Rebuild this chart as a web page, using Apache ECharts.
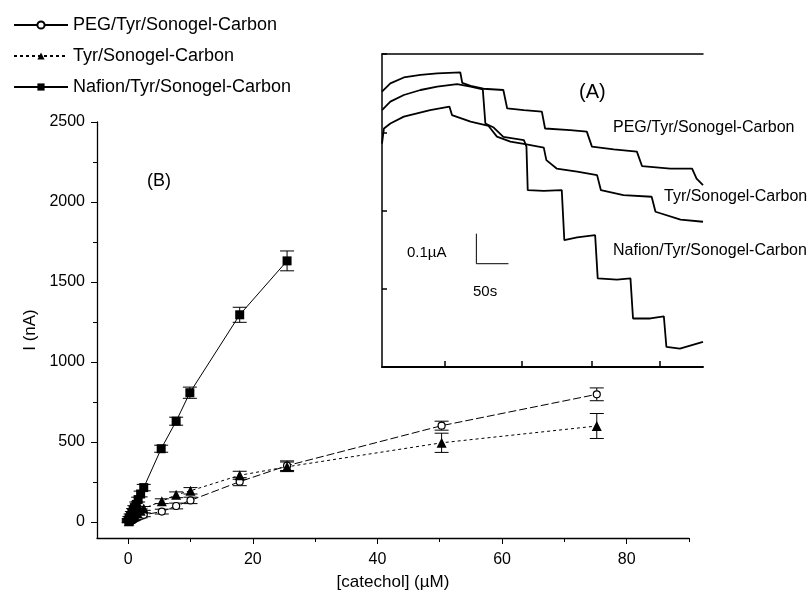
<!DOCTYPE html>
<html>
<head>
<meta charset="utf-8">
<script src="https://cdn.jsdelivr.net/npm/echarts@6/dist/echarts.min.js"></script>
<style>
  html, body { margin: 0; padding: 0; background: #fff; }
  #chart { width: 812px; height: 600px; }
</style>
</head>
<body>
<div id="chart"></div>
<script>
// (B) calibration data: catechol (uM), current (nA), error (nA)
const concNafion = [0.1, 0.2, 0.4, 0.6, 0.8, 1.0, 1.3, 1.6, 2.0, 2.5, 5.3, 7.7, 9.9, 17.9, 25.5];
const currNafion = [12, 25, 40, 55, 72, 90, 110, 140, 175, 215, 458, 630, 808, 1295, 1632];
const errNafion = [10, 10, 10, 10, 12, 12, 15, 15, 18, 20, 22, 25, 35, 47, 62];

const concTyr = [0.1, 0.2, 0.4, 0.6, 0.8, 1.0, 1.5, 2.0, 2.5, 5.4, 7.7, 10.0, 17.9, 25.5, 50.3, 75.2];
const currTyr = [5, 10, 18, 25, 32, 40, 55, 70, 85, 130, 170, 195, 292, 345, 495, 600];
const errTyr = [8, 8, 8, 8, 10, 10, 10, 12, 12, 15, 18, 20, 25, 30, 60, 78];

const concPeg = [0.1, 0.2, 0.4, 0.6, 0.8, 1.0, 1.5, 2.0, 2.5, 5.4, 7.7, 10.0, 17.9, 25.5, 50.3, 75.2];
const currPeg = [3, 6, 10, 14, 18, 22, 30, 38, 45, 65, 100, 135, 252, 352, 602, 798];
const errPeg = [8, 8, 8, 8, 10, 10, 10, 12, 12, 15, 18, 20, 25, 30, 28, 40];

const xTicks = [0, 20, 40, 60, 80];
const xMinorTicks = [10, 30, 50, 70, 90];
const yTicks = [0, 500, 1000, 1500, 2000, 2500];
const yMinorTicks = [250, 750, 1250, 1750, 2250];

// (A) amperometric traces: time (s), relative current
const timePeg = [0, 13, 34, 60, 86, 122, 125, 138, 158, 189, 195, 221, 249, 254, 293, 319, 327, 361, 397, 405, 449, 483, 490, 500];
const ampPeg = [0.880, 0.906, 0.925, 0.933, 0.938, 0.941, 0.908, 0.898, 0.889, 0.885, 0.826, 0.821, 0.816, 0.762, 0.757, 0.752, 0.704, 0.695, 0.688, 0.642, 0.634, 0.634, 0.602, 0.581];

const timeTyr = [0, 3, 13, 34, 75, 105, 109, 138, 166, 179, 200, 223, 252, 256, 272, 304, 335, 341, 376, 420, 426, 465, 500];
const ampTyr = [0.714, 0.762, 0.778, 0.800, 0.821, 0.832, 0.805, 0.784, 0.770, 0.736, 0.720, 0.712, 0.701, 0.661, 0.634, 0.624, 0.613, 0.565, 0.549, 0.544, 0.496, 0.471, 0.464];

const timeNafion = [0, 13, 34, 60, 86, 117, 138, 157, 161, 174, 189, 221, 225, 227, 252, 280, 284, 304, 332, 336, 366, 387, 391, 418, 439, 443, 464, 500];
const ampNafion = [0.821, 0.848, 0.869, 0.885, 0.896, 0.904, 0.896, 0.887, 0.778, 0.765, 0.735, 0.725, 0.704, 0.565, 0.563, 0.565, 0.405, 0.414, 0.421, 0.283, 0.279, 0.283, 0.155, 0.155, 0.162, 0.064, 0.059, 0.080];

const insetTimeTicks = [97, 217, 326, 432];
const scaleBarTime = [147, 147, 197];
const scaleBarAmp = [0.426, 0.330, 0.330];

const FONT = '"Liberation Sans", Arial, sans-serif';
const zip = (a, b) => a.map((v, i) => [v, b[i]]);
const zip3 = (a, b, c) => a.map((v, i) => [v, b[i], c[i]]);

const errorBars = (data) => ({
  type: 'custom',
  xAxisIndex: 0,
  yAxisIndex: 0,
  z: 1,
  silent: true,
  data: data,
  renderItem: (params, api) => {
    const x = api.value(0), y = api.value(1), e = api.value(2);
    const top = api.coord([x, y + e]);
    const bot = api.coord([x, y - e]);
    const hw = 7;
    const st = { stroke: '#000', lineWidth: 1 };
    return {
      type: 'group',
      children: [
        { type: 'line', shape: { x1: top[0], y1: top[1], x2: bot[0], y2: bot[1] }, style: st },
        { type: 'line', shape: { x1: top[0] - hw, y1: top[1], x2: top[0] + hw, y2: top[1] }, style: st },
        { type: 'line', shape: { x1: bot[0] - hw, y1: bot[1], x2: bot[0] + hw, y2: bot[1] }, style: st },
      ],
    };
  },
});

const trace = (t, a) => ({
  type: 'line',
  xAxisIndex: 2,
  yAxisIndex: 2,
  showSymbol: false,
  silent: true,
  lineStyle: { color: '#000', width: 1.8 },
  data: zip(t, a),
});

const chart = echarts.init(document.getElementById('chart'));

const option = {
  animation: false,
  backgroundColor: '#fff',
  textStyle: { fontFamily: FONT, color: '#000' },
  legend: {
    orient: 'vertical',
    left: 13,
    top: 15,
    padding: 0,
    itemWidth: 54,
    itemHeight: 9,
    itemGap: 11,
    textStyle: { fontFamily: FONT, fontSize: 18, color: '#000', lineHeight: 20 },
    data: [
      { name: 'PEG/Tyr/Sonogel-Carbon', lineStyle: { type: 'solid' } },
      { name: 'Tyr/Sonogel-Carbon' },
      { name: 'Nafion/Tyr/Sonogel-Carbon' },
    ],
  },
  grid: [
    { left: 97, top: 122, width: 592, height: 416 },
    { left: 382, top: 54, width: 321, height: 313, backgroundColor: '#fff', show: true, borderWidth: 0 },
  ],
  xAxis: [
    {
      type: 'value', gridIndex: 0, min: -5, max: 90, position: 'bottom',
      name: '[catechol] (\u00b5M)', nameLocation: 'middle', nameGap: 36,
      nameTextStyle: { fontFamily: FONT, fontSize: 17, color: '#000' },
      axisLine: { onZero: false, lineStyle: { color: '#000', width: 1.3 } },
      axisTick: { customValues: xTicks, length: 6, lineStyle: { color: '#000' } },
      axisLabel: { customValues: xTicks, fontSize: 16, color: '#000', margin: 14 },
      splitLine: { show: false },
    },
    {
      type: 'value', gridIndex: 0, min: -5, max: 90, position: 'bottom',
      axisLine: { show: false, onZero: false },
      axisTick: { customValues: xMinorTicks, length: 4, lineStyle: { color: '#000' } },
      axisLabel: { show: false },
      splitLine: { show: false },
    },
    {
      type: 'value', gridIndex: 1, min: 0, max: 500, position: 'bottom',
      axisLine: { onZero: false, lineStyle: { color: '#000', width: 2 } },
      axisTick: { customValues: insetTimeTicks, inside: true, length: 6, lineStyle: { color: '#000', width: 1.5 } },
      axisLabel: { show: false },
      splitLine: { show: false },
    },
    {
      type: 'value', gridIndex: 1, min: 0, max: 500, position: 'top',
      axisLine: { onZero: false, lineStyle: { color: '#000', width: 1.5 } },
      axisTick: { show: false },
      axisLabel: { show: false },
      splitLine: { show: false },
    },
  ],
  yAxis: [
    {
      type: 'value', gridIndex: 0, min: -100, max: 2500, position: 'left',
      name: 'I (nA)', nameLocation: 'middle', nameGap: 36,
      nameTextStyle: { fontFamily: FONT, fontSize: 17, color: '#000' },
      axisLine: { show: true, onZero: false, lineStyle: { color: '#000', width: 1.3 } },
      axisTick: { show: true, customValues: yTicks, length: 6, lineStyle: { color: '#000' } },
      axisLabel: { customValues: yTicks, fontSize: 16, color: '#000', margin: 12, formatter: (v) => String(v) },
      splitLine: { show: false },
    },
    {
      type: 'value', gridIndex: 0, min: -100, max: 2500, position: 'left',
      axisLine: { show: false, onZero: false },
      axisTick: { show: true, customValues: yMinorTicks, length: 4, lineStyle: { color: '#000' } },
      axisLabel: { show: false },
      splitLine: { show: false },
    },
    {
      type: 'value', gridIndex: 1, min: 0, max: 1, interval: 0.25, position: 'left',
      axisLine: { show: true, onZero: false, lineStyle: { color: '#000', width: 1.5 } },
      axisTick: { show: true, inside: true, length: 5, lineStyle: { color: '#000', width: 1.5 } },
      axisLabel: { show: false },
      splitLine: { show: false },
    },
  ],
  graphic: [
    { type: 'text', left: 147, top: 172, style: { text: '(B)', font: '18px ' + FONT, fill: '#000' } },
    { type: 'text', left: 579, top: 82, z: 10, style: { text: '(A)', font: '20px ' + FONT, fill: '#000' } },
    { type: 'text', left: 613, top: 120, z: 10, style: { text: 'PEG/Tyr/Sonogel-Carbon', font: '16px ' + FONT, fill: '#000' } },
    { type: 'text', left: 664, top: 189, z: 10, style: { text: 'Tyr/Sonogel-Carbon', font: '16px ' + FONT, fill: '#000' } },
    { type: 'text', left: 613, top: 243, z: 10, style: { text: 'Nafion/Tyr/Sonogel-Carbon', font: '16px ' + FONT, fill: '#000' } },
    { type: 'text', left: 407, top: 245, z: 10, style: { text: '0.1\u00b5A', font: '15px ' + FONT, fill: '#000' } },
    { type: 'text', left: 473, top: 284, z: 10, style: { text: '50s', font: '15px ' + FONT, fill: '#000' } },
  ],
  series: [
    errorBars(zip3(concPeg, currPeg, errPeg)),
    errorBars(zip3(concTyr, currTyr, errTyr)),
    errorBars(zip3(concNafion, currNafion, errNafion)),
    {
      name: 'PEG/Tyr/Sonogel-Carbon', type: 'line', xAxisIndex: 0, yAxisIndex: 0, z: 3,
      symbol: 'circle', symbolSize: 7,
      itemStyle: { color: '#fff', borderColor: '#000', borderWidth: 1.2 },
      lineStyle: { color: '#000', width: 1, type: [8, 3] },
      data: zip(concPeg, currPeg),
    },
    {
      name: 'Tyr/Sonogel-Carbon', type: 'line', xAxisIndex: 0, yAxisIndex: 0, z: 3,
      symbol: 'triangle', symbolSize: 10,
      itemStyle: { color: '#000' },
      lineStyle: { color: '#000', width: 1, type: [3, 3] },
      data: zip(concTyr, currTyr),
    },
    {
      name: 'Nafion/Tyr/Sonogel-Carbon', type: 'line', xAxisIndex: 0, yAxisIndex: 0, z: 3,
      symbol: 'rect', symbolSize: 9,
      itemStyle: { color: '#000' },
      lineStyle: { color: '#000', width: 1 },
      data: zip(concNafion, currNafion),
    },
    trace(timePeg, ampPeg),
    trace(timeTyr, ampTyr),
    trace(timeNafion, ampNafion),
    {
      type: 'line', xAxisIndex: 2, yAxisIndex: 2, showSymbol: false, silent: true,
      lineStyle: { color: '#000', width: 1 },
      data: zip(scaleBarTime, scaleBarAmp),
    },
  ],
};

chart.setOption(option);
</script>
</body>
</html>
